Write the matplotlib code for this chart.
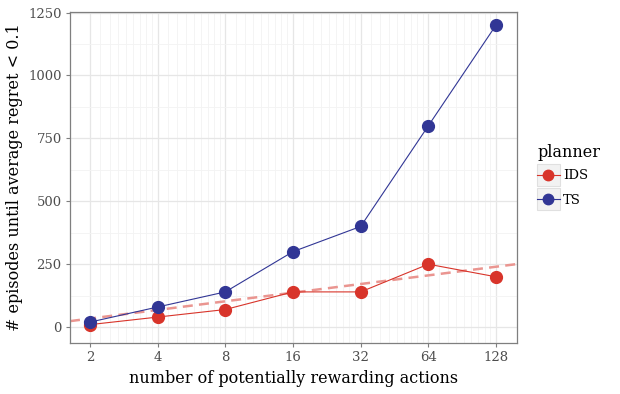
import matplotlib
matplotlib.use("Agg")
import matplotlib.pyplot as plt
import numpy as np
from matplotlib.lines import Line2D
from matplotlib.patches import Rectangle
from matplotlib.ticker import FixedLocator, FixedFormatter

actions = [2, 4, 8, 16, 32, 64, 128]
ids_values = [10, 40, 70, 140, 140, 250, 200]
ts_values = [20, 80, 140, 300, 400, 800, 1200]
trend_x = [2, 128]
trend_y = [34, 240]
y_ticks = [0, 250, 500, 750, 1000, 1250]
x_labels = ["2", "4", "8", "16", "32", "64", "128"]

IDS_C = "#d8342a"
TS_C = "#313695"
GRID = "#e6e6e6"
GRID_MINOR = "#f3f3f3"
FRAME = "#7f7f7f"

plt.rcParams["font.family"] = ["DejaVu Serif"]

fig = plt.figure(figsize=(6.2, 3.94), dpi=100)
ax = fig.add_axes([70 / 620, 51 / 394, 447 / 620, 331 / 394])

ax.set_xscale("log", base=2)
xmin = 2 ** (np.log2(actions[0]) - 0.295)
xmax = 2 ** (np.log2(actions[-1]) + 0.31)
ax.set_xlim(xmin, xmax)
ax.set_ylim(-63, 1252)

# grid
minor_x = []
for b in actions[:-1]:
    for k in range(1, 9):
        minor_x.append(b * (1 + k / 9))
ax.xaxis.set_major_locator(FixedLocator(actions))
ax.xaxis.set_major_formatter(FixedFormatter(x_labels))
ax.xaxis.set_minor_locator(FixedLocator(minor_x))
ax.xaxis.set_minor_formatter(FixedFormatter([""] * len(minor_x)))
ax.yaxis.set_major_locator(FixedLocator(y_ticks))
minor_y = [t + 125 for t in [-250] + y_ticks[:-1]]
ax.yaxis.set_minor_locator(FixedLocator(minor_y))
ax.grid(which="major", color=GRID, lw=0.9, zorder=0)
ax.grid(which="minor", color=GRID_MINOR, lw=0.6, zorder=0)
ax.set_axisbelow(True)
ax.tick_params(which="minor", length=0)
ax.tick_params(which="major", length=3, color=FRAME, width=0.8,
               labelsize=9.5, labelcolor="#4d4d4d", pad=3)
for s in ax.spines.values():
    s.set_color(FRAME)
    s.set_linewidth(0.9)

# trend line (dashed), extended across full x range
slope = (trend_y[1] - trend_y[0]) / (np.log2(trend_x[1]) - np.log2(trend_x[0]))
xx = np.array([xmin, xmax])
yy = trend_y[0] + slope * (np.log2(xx) - np.log2(trend_x[0]))
ax.plot(xx, yy, ls=(0, (4, 2.5)), color="#ea9590", lw=1.8, zorder=2)

ax.plot(actions, ids_values, color=IDS_C, lw=0.8, marker="o", ms=8.5,
        mec=IDS_C, zorder=3)
ax.plot(actions, ts_values, color=TS_C, lw=0.8, marker="o", ms=8.5,
        mec=TS_C, zorder=3)

ax.set_xlabel("number of potentially rewarding actions", fontsize=11.5, labelpad=4)
ax.set_ylabel("# episodes until average regret < 0.1", fontsize=11.5, labelpad=4)

# legend
handles = [Line2D([], [], color=IDS_C, lw=0.8, marker="o", ms=7.5, mec=IDS_C),
           Line2D([], [], color=TS_C, lw=0.8, marker="o", ms=7.5, mec=TS_C)]
leg = fig.legend(handles, ["IDS", "TS"], title="planner", loc="upper left",
                 bbox_to_anchor=(532 / 620, 1 - 139 / 394), frameon=False,
                 fontsize=9.5, title_fontsize=11.5, handlelength=1.7,
                 handletextpad=0.25, labelspacing=0.85, borderaxespad=0,
                 alignment="left")
leg._legend_box.sep = 5.8
fig.canvas.draw()
r = fig.canvas.get_renderer()
for h in leg.legend_handles:
    bb = h.get_window_extent(r)
    cx = (bb.x0 + bb.x1) / 2
    cy = (bb.y0 + bb.y1) / 2
    w = 23
    hgt = 22
    rect = Rectangle((cx - w / 2, cy - hgt / 2), w, hgt, transform=None,
                     facecolor="#f2f2f2", edgecolor="#e0e0e0", lw=0.8,
                     zorder=-1)
    fig.patches.append(rect)

fig.savefig("out.png", dpi=100)
